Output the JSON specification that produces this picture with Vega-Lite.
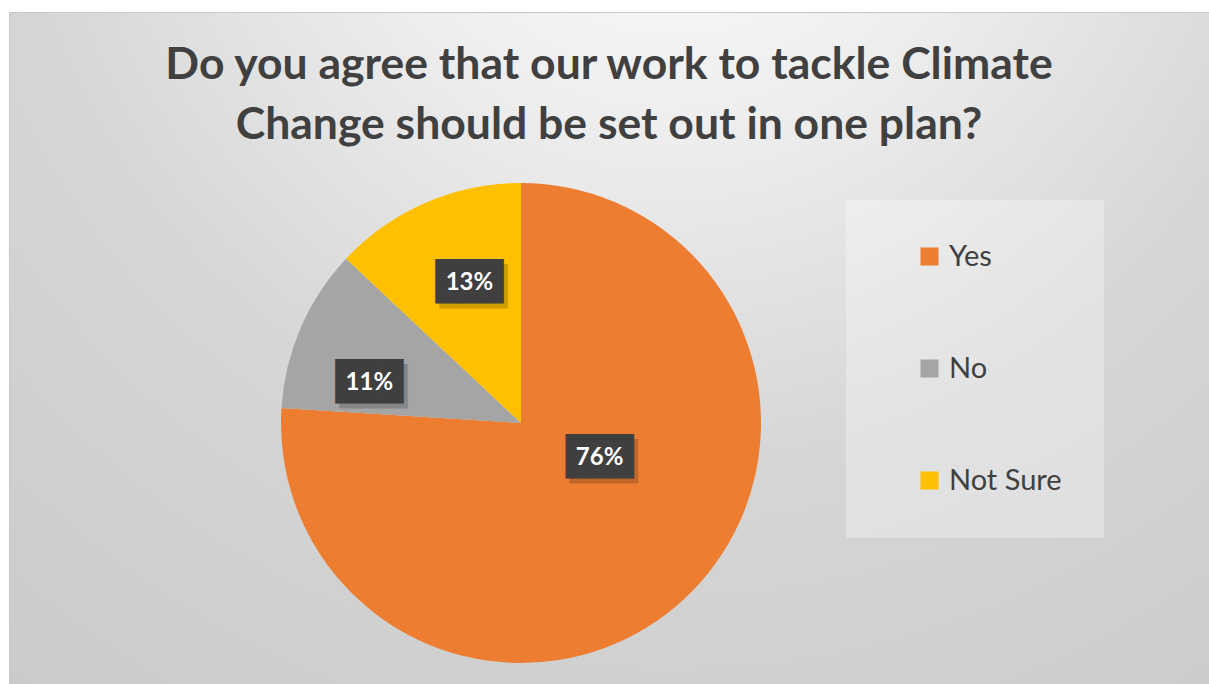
{
  "$schema": "https://vega.github.io/schema/vega-lite/v6.json",
  "width": 1200,
  "height": 672,
  "autosize": {"type": "none"},
  "padding": {"left": 9, "top": 12, "right": 0, "bottom": 0},
  "background": "white",
  "config": {
    "view": {
      "fill": {
        "gradient": "radial",
        "x1": 0.55, "y1": 0.05, "r1": 0,
        "x2": 0.55, "y2": 0.05, "r2": 1.1,
        "stops": [
          {"offset": 0, "color": "#ffffff"},
          {"offset": 0.25, "color": "#ededed"},
          {"offset": 0.5, "color": "#d6d6d6"},
          {"offset": 1, "color": "#c4c4c4"}
        ]
      },
      "stroke": "#c8c8c8",
      "strokeWidth": 1
    }
  },
  "title": {
    "text": ["Do you agree that our work to tackle Climate", "Change should be set out in one plan?"],
    "font": "Lato",
    "fontSize": 44.5,
    "fontWeight": "bold",
    "color": "#404040",
    "lineHeight": 60,
    "anchor": "middle",
    "frame": "group",
    "baseline": "top",
    "offset": -136
  },
  "data": {
    "values": [
      {"answer": "Yes", "share": 0.76, "order": 1},
      {"answer": "No", "share": 0.11, "order": 2},
      {"answer": "Not Sure", "share": 0.13, "order": 3}
    ]
  },
  "encoding": {
    "theta": {"field": "share", "type": "quantitative", "stack": true},
    "order": {"field": "order", "type": "quantitative"},
    "detail": {"field": "answer", "type": "nominal"},
    "x": {"value": 512},
    "y": {"value": 411}
  },
  "layer": [
    {
      "mark": {"type": "arc", "outerRadius": 240},
      "encoding": {
        "color": {
          "field": "answer",
          "type": "nominal",
          "scale": {"domain": ["Yes", "No", "Not Sure"], "range": ["#ED7D31", "#A5A5A5", "#FFC000"]},
          "legend": {
            "title": null,
            "orient": "none",
            "legendX": 837,
            "legendY": 188,
            "symbolType": "square",
            "symbolSize": 324,
            "symbolStrokeWidth": 0,
            "labelFont": "Lato",
            "labelFontSize": 29,
            "labelColor": "#404040",
            "labelOffset": 5,
            "rowPadding": 82,
            "padding": 42,
            "symbolOffset": 27,
            "fillColor": "rgba(255,255,255,0.3)"
          }
        }
      }
    },
    {
      "mark": {"type": "text", "font": "DejaVu Sans Mono", "fontSize": 37.6, "radius": 90, "dx": 21, "dy": -26, "color": "#000000", "opacity": 0.18, "baseline": "middle", "align": "center"},
      "encoding": {"text": {"condition": {"test": "datum.answer !== 'Yes'", "value": ""}, "value": "███"}}
    },
    {
      "mark": {"type": "text", "font": "DejaVu Sans Mono", "fontSize": 37.6, "radius": 90, "dx": 17, "dy": -31, "color": "#3f3f3f", "baseline": "middle", "align": "center"},
      "encoding": {"text": {"condition": {"test": "datum.answer !== 'Yes'", "value": ""}, "value": "███"}}
    },
    {
      "mark": {"type": "text", "font": "Lato", "fontSize": 24, "fontWeight": "bold", "radius": 90, "dx": 17, "dy": -31, "color": "#ffffff", "baseline": "middle", "align": "center"},
      "encoding": {"text": {"condition": {"test": "datum.answer !== 'Yes'", "value": ""}, "field": "share", "type": "quantitative", "format": ".0%"}}
    },
    {
      "mark": {"type": "text", "font": "DejaVu Sans Mono", "fontSize": 37.6, "radius": 150, "dx": -10, "dy": 25, "color": "#000000", "opacity": 0.18, "baseline": "middle", "align": "center"},
      "encoding": {"text": {"condition": {"test": "datum.answer !== 'No'", "value": ""}, "value": "███"}}
    },
    {
      "mark": {"type": "text", "font": "DejaVu Sans Mono", "fontSize": 37.6, "radius": 150, "dx": -14, "dy": 20, "color": "#3f3f3f", "baseline": "middle", "align": "center"},
      "encoding": {"text": {"condition": {"test": "datum.answer !== 'No'", "value": ""}, "value": "███"}}
    },
    {
      "mark": {"type": "text", "font": "Lato", "fontSize": 24, "fontWeight": "bold", "radius": 150, "dx": -14, "dy": 20, "color": "#ffffff", "baseline": "middle", "align": "center"},
      "encoding": {"text": {"condition": {"test": "datum.answer !== 'No'", "value": ""}, "field": "share", "type": "quantitative", "format": ".0%"}}
    },
    {
      "mark": {"type": "text", "font": "DejaVu Sans Mono", "fontSize": 37.6, "radius": 150, "dx": 12, "dy": 3, "color": "#000000", "opacity": 0.18, "baseline": "middle", "align": "center"},
      "encoding": {"text": {"condition": {"test": "datum.answer !== 'Not Sure'", "value": ""}, "value": "███"}}
    },
    {
      "mark": {"type": "text", "font": "DejaVu Sans Mono", "fontSize": 37.6, "radius": 150, "dx": 8, "dy": -2, "color": "#3f3f3f", "baseline": "middle", "align": "center"},
      "encoding": {"text": {"condition": {"test": "datum.answer !== 'Not Sure'", "value": ""}, "value": "███"}}
    },
    {
      "mark": {"type": "text", "font": "Lato", "fontSize": 24, "fontWeight": "bold", "radius": 150, "dx": 8, "dy": -2, "color": "#ffffff", "baseline": "middle", "align": "center"},
      "encoding": {"text": {"condition": {"test": "datum.answer !== 'Not Sure'", "value": ""}, "field": "share", "type": "quantitative", "format": ".0%"}}
    }
  ]
}
